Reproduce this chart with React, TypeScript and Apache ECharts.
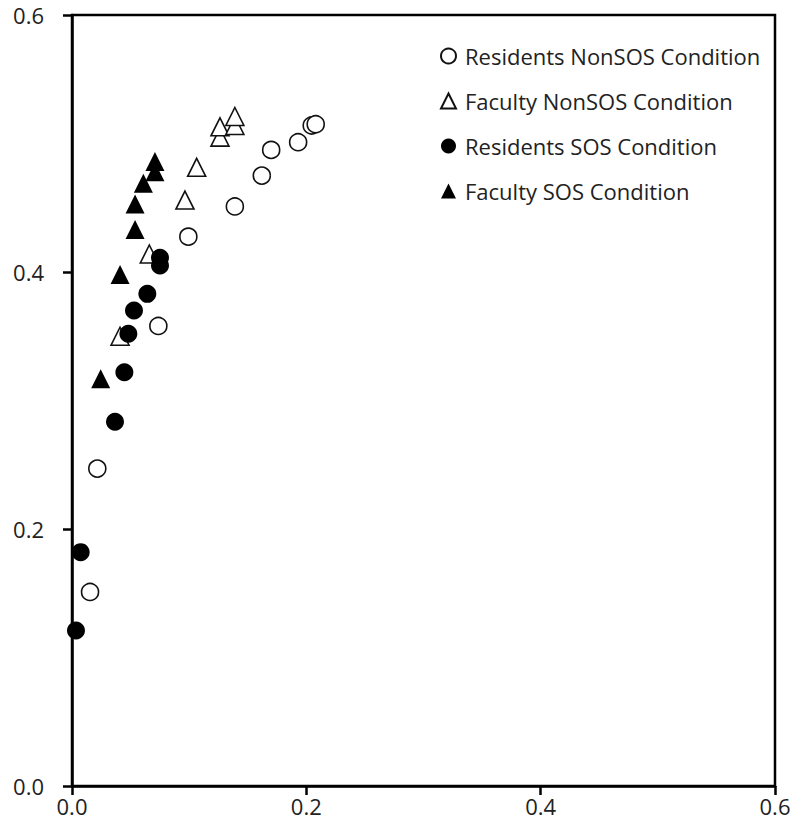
import React, { useEffect, useRef } from "react";
import * as echarts from "echarts";

const seriesNames = [
  "Residents NonSOS Condition",
  "Faculty NonSOS Condition",
  "Residents SOS Condition",
  "Faculty SOS Condition",
];

const residentsNonSOS: [number, number][] = [
  [0.0154, 0.151],
  [0.0216, 0.247],
  [0.0737, 0.358],
  [0.0993, 0.4275],
  [0.139, 0.451],
  [0.162, 0.475],
  [0.170, 0.495],
  [0.193, 0.501],
  [0.2046, 0.514],
  [0.208, 0.515],
];

const facultyNonSOS: [number, number][] = [
  [0.041, 0.35],
  [0.066, 0.414],
  [0.0964, 0.456],
  [0.1064, 0.4815],
  [0.1263, 0.505],
  [0.1263, 0.513],
  [0.139, 0.514],
  [0.139, 0.521],
];

const residentsSOS: [number, number][] = [
  [0.0034, 0.121],
  [0.0074, 0.182],
  [0.0367, 0.2835],
  [0.0447, 0.322],
  [0.0481, 0.352],
  [0.0529, 0.37],
  [0.0643, 0.383],
  [0.0751, 0.405],
  [0.0751, 0.411],
];

const facultySOS: [number, number][] = [
  [0.0245, 0.317],
  [0.041, 0.398],
  [0.0538, 0.433],
  [0.0538, 0.453],
  [0.0609, 0.469],
  [0.0708, 0.478],
  [0.0708, 0.486],
];

const tickFmt = (v: number) => v.toFixed(1);

export default function App() {
  const ref = useRef<HTMLDivElement>(null);
  useEffect(() => {
    if (!ref.current) return;
    const chart = echarts.init(ref.current, null, { renderer: "svg" });
    const font = "'Open Sans', 'Noto Sans', sans-serif";
    const mk = (
      name: string,
      data: [number, number][],
      symbol: string,
      filled: boolean,
      size: number
    ) => ({
      name,
      type: "scatter",
      data,
      symbol,
      symbolSize: size,
      itemStyle: {
        color: filled ? "#000" : "#fff",
        borderColor: "#111",
        borderWidth: filled ? 0 : 1.6,
        opacity: 1,
      },
      z: filled ? 3 : 2,
    });
    chart.setOption({
      animation: false,
      backgroundColor: "#fff",
      grid: {
        left: 72,
        right: 25,
        top: 15,
        bottom: 53,
        show: true,
        borderColor: "#000",
        borderWidth: 2.5,
        containLabel: false,
      },
      legend: {
        orient: "vertical",
        left: 435,
        top: 40,
        itemGap: 23,
        itemWidth: 15,
        itemHeight: 15,
        textStyle: { fontSize: 22, color: "#222", fontFamily: font, padding: [0, 0, 0, 4] },
        data: seriesNames.map((n, i) => ({
          name: n,
          icon: i % 2 === 0 ? "circle" : "triangle",
        })),
      },
      xAxis: {
        type: "value",
        min: 0,
        max: 0.6,
        interval: 0.2,
        splitLine: { show: false },
        axisLine: { show: true, onZero: false, lineStyle: { color: "#000", width: 2.5 } },
        axisTick: { show: true, inside: false, length: 9, lineStyle: { color: "#000", width: 2.5 } },
        axisLabel: {
          formatter: tickFmt,
          fontSize: 22,
          color: "#222",
          fontFamily: font,
          margin: 9,
        },
      },
      yAxis: {
        type: "value",
        min: 0,
        max: 0.6,
        interval: 0.2,
        splitLine: { show: false },
        axisLine: { show: true, onZero: false, lineStyle: { color: "#000", width: 2.5 } },
        axisTick: { show: true, inside: false, length: 9, lineStyle: { color: "#000", width: 2.5 } },
        axisLabel: {
          formatter: tickFmt,
          fontSize: 22,
          color: "#222",
          fontFamily: font,
          margin: 28,
        },
      },
      series: [
        mk(seriesNames[0], residentsNonSOS, "circle", false, 17),
        mk(seriesNames[1], facultyNonSOS, "triangle", false, 18),
        mk(seriesNames[2], residentsSOS, "circle", true, 18),
        mk(seriesNames[3], facultySOS, "triangle", true, 19),
      ],
    });
    return () => chart.dispose();
  }, []);
  return <div ref={ref} style={{ width: 800, height: 839, position: "absolute", left: 0, top: 0 }} />;
}
